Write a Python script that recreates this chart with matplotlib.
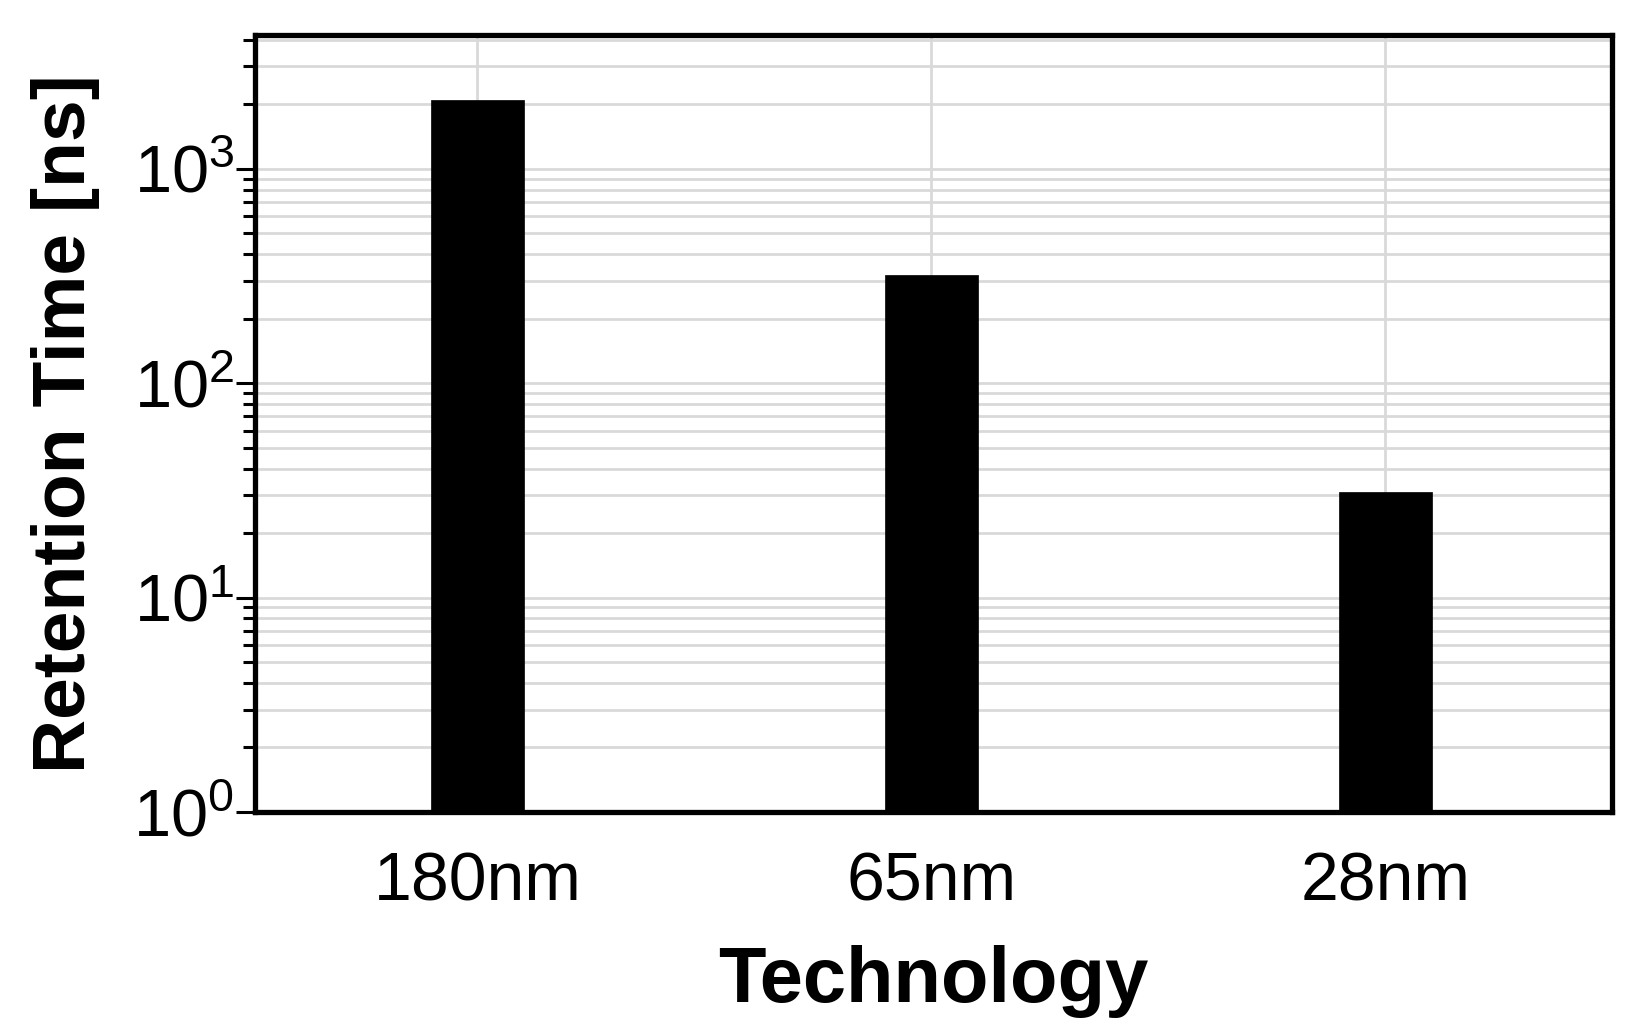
import matplotlib
matplotlib.use("Agg")
import matplotlib.pyplot as plt
from matplotlib.ticker import LogLocator, NullFormatter, FixedLocator

plt.rcParams["font.family"] = ["Liberation Sans", "DejaVu Sans"]
plt.rcParams["mathtext.default"] = "regular"

# data
technology = ["180nm", "65nm", "28nm"]
retention_ns = [2100, 320, 30]

fig = plt.figure(figsize=(16.4, 10.34), dpi=100)
ax = fig.add_axes([0.1555, 0.2147, 0.983 - 0.1555, 0.966 - 0.2147])

xpos = list(range(len(technology)))
ax.bar(xpos, retention_ns, width=0.205, bottom=1, color="black",
       edgecolor="black", linewidth=0.5, zorder=3)

ax.set_yscale("log")
ax.set_ylim(1, 4200)
ax.set_xlim(-0.49, 2.5)

# y ticks: decades with 10^n labels, minor ticks in between
ax.yaxis.set_major_locator(FixedLocator([1, 10, 100, 1000]))
ax.set_yticklabels([r"$10^{0}$", r"$10^{1}$", r"$10^{2}$", r"$10^{3}$"])
ax.yaxis.set_minor_locator(LogLocator(base=10, subs=range(2, 10), numticks=20))
ax.yaxis.set_minor_formatter(NullFormatter())
ax.tick_params(axis="y", which="major", direction="out", length=14, width=2.2,
               labelsize=48, pad=1, right=False)
ax.tick_params(axis="y", which="minor", direction="out", length=8.5, width=2.2,
               right=False)

ax.set_xticks(xpos)
ax.set_xticklabels(technology)
ax.tick_params(axis="x", which="both", length=0, labelsize=49, pad=28)

# light grey grid, behind the bars
ax.set_axisbelow(True)
ax.yaxis.grid(True, which="major", color="#d9d9d9", linewidth=2.0)
ax.yaxis.grid(True, which="minor", color="#d9d9d9", linewidth=2.0)
ax.xaxis.grid(True, which="major", color="#d9d9d9", linewidth=2.0)

for sp in ax.spines.values():
    sp.set_linewidth(3.8)
    sp.set_color("black")

ax.set_ylabel("Retention Time [ns]", fontsize=54, fontweight="bold", labelpad=24)
ax.set_xlabel("Technology", fontsize=56, fontweight="bold", labelpad=22)

fig.savefig("out.png", dpi=100, facecolor="white")
print("saved: out.png")
